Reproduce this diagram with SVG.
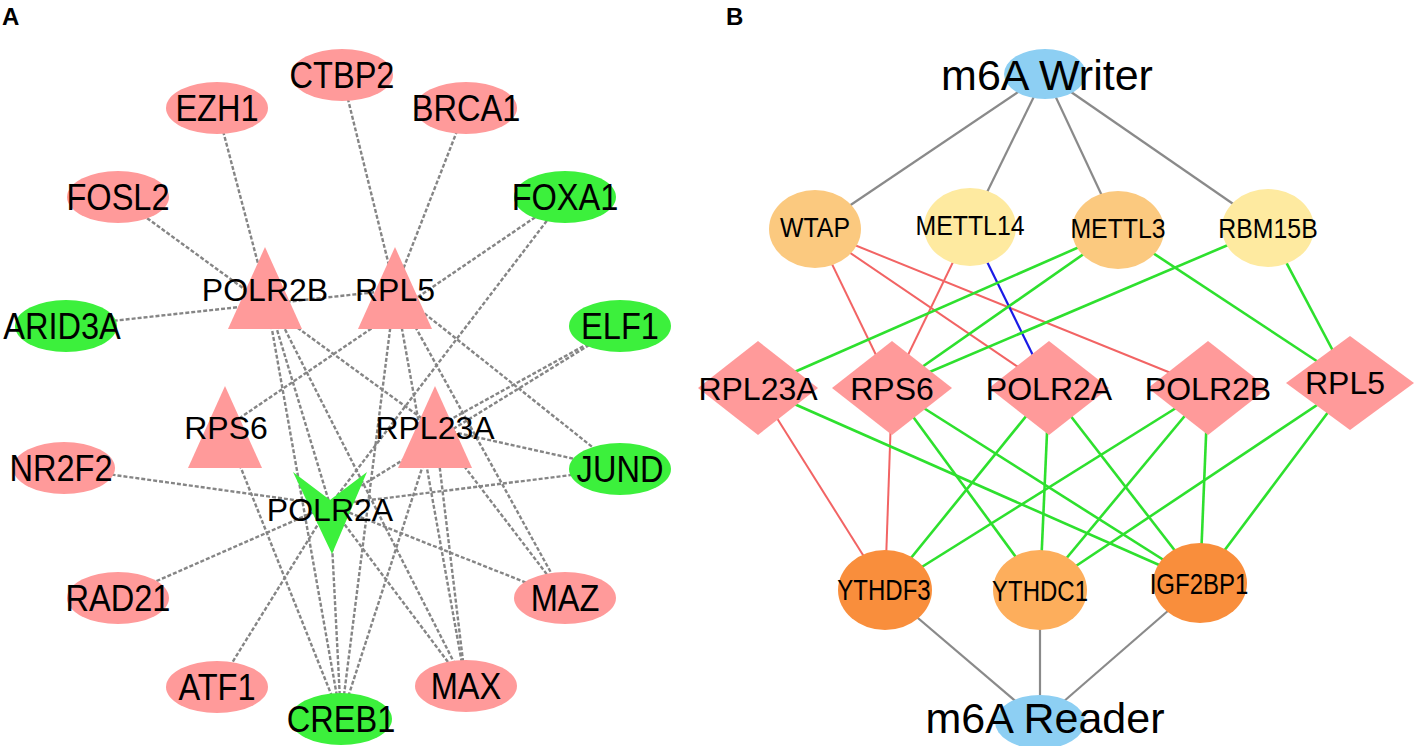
<svg xmlns="http://www.w3.org/2000/svg" width="1418" height="746" viewBox="0 0 1418 746">
<style>
text{font-family:"Liberation Sans",Arial,sans-serif;fill:#000;text-anchor:middle}
.pl{font-weight:bold;font-size:24px;text-anchor:start}
.ta{font-size:37px}
.th{font-size:32px}
.tc{font-size:27px}
.tr{font-size:30px}
.tw{font-size:43px}
.ea{stroke:#858585;stroke-width:2.4;stroke-dasharray:4 2;fill:none}
.eg{stroke:#8a8a8a;stroke-width:2.2}
.er{stroke:#f26464;stroke-width:2}
.eb{stroke:#1a1ae6;stroke-width:2.2}
.egr{stroke:#2ee02e;stroke-width:2.6}
.pk{fill:#ff9a9a}
.gn{fill:#3cf03c}
.bl{fill:#8dcff3}
.o1{fill:#fbc97f}
.o2{fill:#feeaa0}
.o3{fill:#f98e3c}
.o4{fill:#fdae5c}
</style>
<rect width="1418" height="746" fill="#fff"/>
<text class="pl" x="2" y="25">A</text>
<text class="pl" x="726" y="25">B</text>

<g id="edges-a">
<line class="ea" x1="342" y1="75" x2="395" y2="290"/>
<line class="ea" x1="217" y1="108" x2="265" y2="290"/>
<line class="ea" x1="466" y1="108" x2="395" y2="290"/>
<line class="ea" x1="118" y1="197" x2="435" y2="428"/>
<line class="ea" x1="565" y1="197" x2="225" y2="428"/>
<line class="ea" x1="565" y1="197" x2="330" y2="505"/>
<line class="ea" x1="66" y1="326" x2="395" y2="290"/>
<line class="ea" x1="620" y1="326" x2="435" y2="428"/>
<line class="ea" x1="620" y1="326" x2="330" y2="505"/>
<line class="ea" x1="620" y1="469" x2="395" y2="290"/>
<line class="ea" x1="620" y1="469" x2="435" y2="428"/>
<line class="ea" x1="620" y1="469" x2="330" y2="505"/>
<line class="ea" x1="64" y1="468" x2="330" y2="505"/>
<line class="ea" x1="118" y1="598" x2="330" y2="505"/>
<line class="ea" x1="217" y1="687" x2="330" y2="505"/>
<line class="ea" x1="565" y1="598" x2="330" y2="505"/>
<line class="ea" x1="565" y1="598" x2="395" y2="290"/>
<line class="ea" x1="565" y1="598" x2="435" y2="428"/>
<line class="ea" x1="466" y1="686" x2="265" y2="290"/>
<line class="ea" x1="466" y1="686" x2="395" y2="290"/>
<line class="ea" x1="466" y1="686" x2="435" y2="428"/>
<line class="ea" x1="466" y1="686" x2="330" y2="505"/>
<line class="ea" x1="341" y1="719" x2="265" y2="290"/>
<line class="ea" x1="341" y1="719" x2="225" y2="428"/>
<line class="ea" x1="341" y1="719" x2="330" y2="505"/>
<line class="ea" x1="341" y1="719" x2="395" y2="290"/>
<line class="ea" x1="341" y1="719" x2="435" y2="428"/>
<line class="ea" x1="265" y1="290" x2="330" y2="505"/>
</g>

<g id="edges-b">
<line class="eg" x1="1045" y1="74" x2="815" y2="229"/>
<line class="eg" x1="1045" y1="74" x2="970" y2="227"/>
<line class="eg" x1="1045" y1="74" x2="1118" y2="230"/>
<line class="eg" x1="1045" y1="74" x2="1268" y2="228"/>
<line class="eg" x1="1040" y1="722" x2="885" y2="590"/>
<line class="eg" x1="1040" y1="722" x2="1040" y2="590"/>
<line class="eg" x1="1040" y1="722" x2="1200" y2="583"/>
<line class="er" x1="815" y1="229" x2="892" y2="388"/>
<line class="er" x1="815" y1="229" x2="1049" y2="388"/>
<line class="er" x1="815" y1="229" x2="1208" y2="388"/>
<line class="er" x1="970" y1="227" x2="892" y2="388"/>
<line class="eb" x1="970" y1="227" x2="1049" y2="388"/>
<line class="egr" x1="1118" y1="230" x2="758" y2="388"/>
<line class="egr" x1="1118" y1="230" x2="892" y2="388"/>
<line class="egr" x1="1118" y1="230" x2="1350" y2="383"/>
<line class="egr" x1="1268" y1="228" x2="892" y2="388"/>
<line class="egr" x1="1268" y1="228" x2="1350" y2="383"/>
<line class="er" x1="758" y1="388" x2="885" y2="590"/>
<line class="er" x1="892" y1="388" x2="885" y2="590"/>
<line class="egr" x1="758" y1="388" x2="1200" y2="583"/>
<line class="egr" x1="892" y1="388" x2="1040" y2="590"/>
<line class="egr" x1="892" y1="388" x2="1200" y2="583"/>
<line class="egr" x1="1049" y1="388" x2="885" y2="590"/>
<line class="egr" x1="1049" y1="388" x2="1040" y2="590"/>
<line class="egr" x1="1049" y1="388" x2="1200" y2="583"/>
<line class="egr" x1="1208" y1="388" x2="885" y2="590"/>
<line class="egr" x1="1208" y1="388" x2="1040" y2="590"/>
<line class="egr" x1="1208" y1="388" x2="1200" y2="583"/>
<line class="egr" x1="1350" y1="383" x2="1040" y2="590"/>
<line class="egr" x1="1350" y1="383" x2="1200" y2="583"/>
</g>

<g id="a-CTBP2"><ellipse class="pk" cx="342" cy="75" rx="51" ry="26"/><text class="ta" transform="translate(342,88) scale(0.88,1)">CTBP2</text></g>
<g id="a-EZH1"><ellipse class="pk" cx="217" cy="108" rx="51" ry="26"/><text class="ta" transform="translate(217,121) scale(0.88,1)">EZH1</text></g>
<g id="a-BRCA1"><ellipse class="pk" cx="466" cy="108" rx="51" ry="26"/><text class="ta" transform="translate(466,121) scale(0.88,1)">BRCA1</text></g>
<g id="a-FOSL2"><ellipse class="pk" cx="118" cy="197" rx="51" ry="26"/><text class="ta" transform="translate(118,210) scale(0.88,1)">FOSL2</text></g>
<g id="a-FOXA1"><ellipse class="gn" cx="565" cy="197" rx="51" ry="26"/><text class="ta" transform="translate(565,210) scale(0.88,1)">FOXA1</text></g>
<g id="a-ARID3A"><ellipse class="gn" cx="66" cy="326" rx="51" ry="26"/><text class="ta" transform="translate(62,339) scale(0.88,1)">ARID3A</text></g>
<g id="a-ELF1"><ellipse class="gn" cx="620" cy="326" rx="51" ry="26"/><text class="ta" transform="translate(620,339) scale(0.88,1)">ELF1</text></g>
<g id="a-NR2F2"><ellipse class="pk" cx="64" cy="468" rx="51" ry="26"/><text class="ta" transform="translate(61,481) scale(0.88,1)">NR2F2</text></g>
<g id="a-JUND"><ellipse class="gn" cx="620" cy="469" rx="51" ry="26"/><text class="ta" transform="translate(620,482) scale(0.88,1)">JUND</text></g>
<g id="a-RAD21"><ellipse class="pk" cx="118" cy="598" rx="51" ry="26"/><text class="ta" transform="translate(118,611) scale(0.88,1)">RAD21</text></g>
<g id="a-MAZ"><ellipse class="pk" cx="565" cy="598" rx="51" ry="26"/><text class="ta" transform="translate(565,611) scale(0.88,1)">MAZ</text></g>
<g id="a-ATF1"><ellipse class="pk" cx="217" cy="687" rx="51" ry="26"/><text class="ta" transform="translate(217,700) scale(0.88,1)">ATF1</text></g>
<g id="a-MAX"><ellipse class="pk" cx="466" cy="686" rx="51" ry="26"/><text class="ta" transform="translate(466,699) scale(0.88,1)">MAX</text></g>
<g id="a-CREB1"><ellipse class="gn" cx="341" cy="719" rx="51" ry="26"/><text class="ta" transform="translate(341,732) scale(0.88,1)">CREB1</text></g>

<g id="a-POLR2B"><polygon class="pk" points="265,247 302,329 228,329"/><text class="th" x="265" y="301">POLR2B</text></g>
<g id="a-RPL5"><polygon class="pk" points="395,247 432,329 358,329"/><text class="th" x="395" y="301">RPL5</text></g>
<g id="a-RPS6"><polygon class="pk" points="225,386 262,468 188,468"/><text class="th" x="226" y="439">RPS6</text></g>
<g id="a-RPL23A"><polygon class="pk" points="435,386 472,468 398,468"/><text class="th" x="435" y="439">RPL23A</text></g>
<g id="a-POLR2A"><polygon class="gn" points="293,472 330,500 367,472 332,554"/><text class="th" x="330" y="521">POLR2A</text></g>

<g id="b-writer"><ellipse class="bl" cx="1045" cy="74" rx="41" ry="25"/><text class="tw" x="1047" y="90">m6A Writer</text></g>
<g id="b-WTAP"><ellipse class="o1" cx="815" cy="229" rx="46" ry="39"/><text class="tc" transform="translate(815,237) scale(0.92,1)">WTAP</text></g>
<g id="b-METTL14"><ellipse class="o2" cx="970" cy="227" rx="46" ry="39"/><text class="tc" transform="translate(970,235) scale(0.92,1)">METTL14</text></g>
<g id="b-METTL3"><ellipse class="o1" cx="1118" cy="230" rx="46" ry="39"/><text class="tc" transform="translate(1118,238) scale(0.92,1)">METTL3</text></g>
<g id="b-RBM15B"><ellipse class="o2" cx="1268" cy="228" rx="46" ry="39"/><text class="tc" transform="translate(1268,238) scale(0.92,1)">RBM15B</text></g>

<g id="b-RPL23A"><polygon class="pk" points="758,341 818,388 758,435 698,388"/><text class="th" x="758" y="400">RPL23A</text></g>
<g id="b-RPS6"><polygon class="pk" points="892,341 952,388 892,435 832,388"/><text class="th" x="892" y="400">RPS6</text></g>
<g id="b-POLR2A"><polygon class="pk" points="1049,341 1109,388 1049,435 989,388"/><text class="th" x="1049" y="400">POLR2A</text></g>
<g id="b-POLR2B"><polygon class="pk" points="1208,341 1268,388 1208,435 1148,388"/><text class="th" x="1208" y="400">POLR2B</text></g>
<g id="b-RPL5"><polygon class="pk" points="1350,336 1414,383 1350,430 1286,383"/><text class="th" x="1345" y="394">RPL5</text></g>

<g id="b-YTHDF3"><ellipse class="o3" cx="885" cy="590" rx="47" ry="40"/><text class="tr" transform="translate(884,600) scale(0.8,1)">YTHDF3</text></g>
<g id="b-YTHDC1"><ellipse class="o4" cx="1040" cy="590" rx="47" ry="40"/><text class="tr" transform="translate(1040,601) scale(0.8,1)">YTHDC1</text></g>
<g id="b-IGF2BP1"><ellipse class="o3" cx="1200" cy="583" rx="47" ry="40"/><text class="tr" transform="translate(1199,594) scale(0.8,1)">IGF2BP1</text></g>
<g id="b-reader"><ellipse class="bl" cx="1040" cy="722" rx="45" ry="27"/><text class="tw" x="1045" y="733">m6A Reader</text></g>
</svg>
